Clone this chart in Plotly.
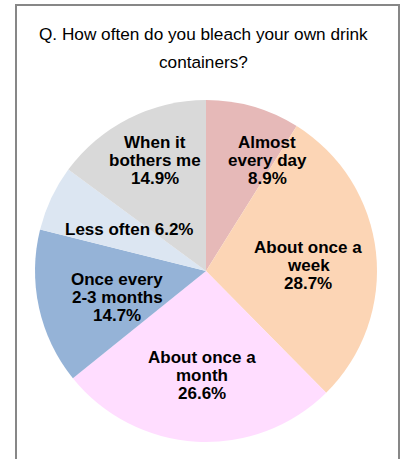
import math
import plotly.graph_objects as go

# ---- data ----
categories = ["Almost every day", "About once a week", "About once a month",
              "Once every 2-3 months", "Less often", "When it bothers me"]
values = [8.9, 28.7, 26.6, 14.7, 6.2, 14.9]
label_lines = [
    ["Almost", "every day", "8.9%"],
    ["About once a", "week", "28.7%"],
    ["About once a", "month", "26.6%"],
    ["Once every", "2-3 months", "14.7%"],
    ["Less often 6.2%"],
    ["When it", "bothers me", "14.9%"],
]
title_lines = ["Q. How often do you bleach your own drink", "containers?"]

# ---- style ----
colors = ["#E6B9B8", "#FCD5B5", "#FFDDFF", "#95B3D7", "#DCE6F2", "#D9D9D9"]
label_radius = [0.74, 0.60, 0.61, 0.54, 0.51, 0.71]   # fraction of pie radius
label_angle_nudge = [13, 3, -1, -4, 3, 2]             # degrees
W, H = 406, 459
CX, CY, R = 206, 271, 171
LINE_H = 18
FONT = "Liberation Sans, Arial, sans-serif"

fig = go.Figure(go.Pie(
    labels=categories, values=values, sort=False, direction="clockwise",
    rotation=0, textinfo="none", hoverinfo="label+percent",
    marker=dict(colors=colors, line=dict(width=0)),
    domain=dict(x=[(CX - R) / W, (CX + R) / W],
                y=[1 - (CY + R) / H, 1 - (CY - R) / H]),
    showlegend=False,
))

annotations = []
total = sum(values)
cum = 0.0
for i, v in enumerate(values):
    mid = (cum + v / 2) / total * 360 + label_angle_nudge[i]
    cum += v
    a = math.radians(mid)
    x = CX / W + label_radius[i] * R * math.sin(a) / W
    y = 1 - CY / H + label_radius[i] * R * math.cos(a) / H
    lines = label_lines[i]
    n = len(lines)
    for j, line in enumerate(lines):
        annotations.append(dict(
            x=x, y=y, xref="paper", yref="paper", text="<b>" + line + "</b>",
            showarrow=False, xanchor="center", yanchor="middle",
            yshift=((n - 1) / 2 - j) * LINE_H,
            font=dict(family=FONT, size=17, color="#000000"),
        ))

for j, t in enumerate(title_lines):
    annotations.append(dict(
        x=0.5, y=1 - (34 + 28 * j) / H, xref="paper", yref="paper", text=t,
        showarrow=False, xanchor="center", yanchor="middle",
        font=dict(family=FONT, size=17.2, color="#000000"),
    ))

fig.update_layout(
    width=W, height=H,
    margin=dict(l=0, r=0, t=0, b=0),
    paper_bgcolor="white", plot_bgcolor="white",
    annotations=annotations,
    shapes=[dict(type="rect", xref="paper", yref="paper",
                 x0=16 / W, x1=399 / W, y0=-0.1, y1=1 - 5 / H,
                 line=dict(color="#878787", width=2))],
)

fig.write_html("out.html", config={"displayModeBar": False},
               post_script="document.body.style.margin='0';document.body.style.overflow='hidden';")
